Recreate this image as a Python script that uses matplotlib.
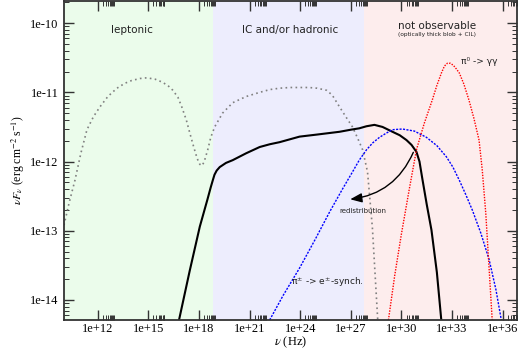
import numpy as np
import matplotlib
matplotlib.use("Agg")
import matplotlib.pyplot as plt
from matplotlib.ticker import FixedLocator, FuncFormatter, LogLocator, NullFormatter

# values, as log10(nu / Hz) and log10(nuF_nu)
lep_ic_lognu = [10.0, 10.3, 10.65, 11.0, 11.36, 11.75, 12.13, 12.6, 13.14, 13.6, 14.0, 14.5,
                14.91, 15.4, 15.8, 16.15, 16.45, 16.75, 16.98, 17.25, 17.46, 17.7, 17.9, 18.05,
                18.17, 18.3, 18.52, 18.7, 18.93, 19.4, 20.0, 20.8, 21.6, 22.2, 22.78, 23.4,
                23.96, 24.5, 25.0, 25.56, 25.9, 26.33, 26.75, 27.1, 27.4, 27.7, 27.99, 28.28, 28.6]
lep_ic_logf = [-12.92, -12.6, -12.27, -11.88, -11.54, -11.35, -11.21, -11.06, -10.94, -10.87,
               -10.83, -10.80, -10.79, -10.81, -10.85, -10.9, -10.97, -11.07, -11.21, -11.40,
               -11.59, -11.8, -11.96, -12.04, -12.06, -12.01, -11.83, -11.65, -11.50, -11.3,
               -11.15, -11.06, -11.0, -10.96, -10.94, -10.93, -10.93, -10.93, -10.94, -10.97,
               -11.04, -11.21, -11.37, -11.50, -11.66, -11.83, -12.15, -12.96, -14.31]

total_lognu = [16.8, 17.45, 18.05, 18.5, 18.7, 18.82, 18.92, 19.05, 19.23, 19.6, 20.0, 20.8,
               21.6, 22.2, 22.78, 23.96, 25.0, 26.33, 27.0, 27.5, 27.93, 28.4, 28.88, 29.47,
               29.9, 30.3, 30.6, 30.89, 31.07, 31.24, 31.5, 31.78, 32.1, 32.37]
total_logf = [-14.31, -13.58, -12.94, -12.55, -12.37, -12.27, -12.19, -12.13, -12.08, -12.02,
              -11.98, -11.88, -11.79, -11.75, -11.72, -11.64, -11.61, -11.57, -11.54, -11.52,
              -11.49, -11.47, -11.50, -11.57, -11.62, -11.69, -11.76, -11.86, -12.0, -12.25,
              -12.62, -12.99, -13.6, -14.31]

synch_lognu = [22.19, 23.0, 23.96, 24.9, 25.74, 26.5, 27.1, 27.5, 27.93, 28.3, 28.7, 29.1,
               29.47, 30.06, 30.77, 31.48, 32.1, 32.66, 33.05, 33.43, 33.8, 34.2, 34.7, 35.2,
               35.6, 35.92]
synch_logf = [-14.29, -13.93, -13.54, -13.12, -12.73, -12.4, -12.15, -11.98, -11.83, -11.73,
              -11.65, -11.59, -11.54, -11.53, -11.56, -11.65, -11.77, -11.93, -12.08, -12.27,
              -12.47, -12.70, -13.03, -13.42, -13.85, -14.29]

pi0_lognu = [29.23, 29.6, 29.99, 30.45, 30.89, 31.35, 31.83, 32.1, 32.37, 32.55, 32.72, 32.9,
             33.08, 33.25, 33.43, 33.7, 34.0, 34.3, 34.6, 34.79, 35.0, 35.2, 35.38]
pi0_logf = [-14.29, -13.65, -13.06, -12.42, -11.83, -11.45, -11.11, -10.9, -10.72, -10.62,
            -10.58, -10.58, -10.61, -10.66, -10.72, -10.88, -11.11, -11.38, -11.69, -12.12,
            -12.75, -13.56, -14.29]

# region boundaries (log10 nu)
regions = [(10.0, 18.82, "#ebfceb"), (18.82, 27.8, "#ededfd"), (27.8, 36.85, "#fdeded")]

x_major = [12, 15, 18, 21, 24, 27, 30, 33, 36]
y_major = [-14, -13, -12, -11, -10]

serif = "Liberation Serif"
plt.rcParams["mathtext.fontset"] = "stix"

fig = plt.figure(figsize=(5.19, 3.51), dpi=100)
ax = fig.add_axes([64 / 519, 31 / 351, 453 / 519, 319 / 351])
ax.set_xscale("log")
ax.set_yscale("log")
ax.set_xlim(1e10, 10 ** 36.85)
ax.set_ylim(10 ** -14.29, 10 ** -9.68)

for lo, hi, c in regions:
    ax.axvspan(10 ** lo, 10 ** hi, color=c, lw=0, zorder=0)

p = lambda a: 10 ** np.array(a)
ax.plot(p(lep_ic_lognu), p(lep_ic_logf), color="#808080", lw=1.2, ls=(0, (1, 2)))
ax.plot(p(total_lognu), p(total_logf), color="black", lw=1.5)
ax.plot(p(synch_lognu), p(synch_logf), color="blue", lw=1.0, ls=(0, (1.5, 1)))
ax.plot(p(pi0_lognu), p(pi0_logf), color="red", lw=1.0, ls=(0, (1, 1)))

ax.annotate("", xy=(10 ** 26.8, 10 ** -12.55), xytext=(10 ** 30.77, 10 ** -11.83),
            arrowprops=dict(arrowstyle="-|>,head_length=0.7,head_width=0.28", color="black",
                            lw=1.0, connectionstyle="arc3,rad=-0.3"))
ax.text(10 ** 27.69, 10 ** -12.71, "redistribution", fontsize=5, ha="center", va="center",
        color="#222222")

ax.text(10 ** 14.02, 10 ** -10.10, "leptonic", fontsize=7.5, ha="center", va="center", color="#222222")
ax.text(10 ** 23.43, 10 ** -10.10, "IC and/or hadronic", fontsize=7.5, ha="center", va="center",
        color="#222222")
ax.text(10 ** 32.13, 10 ** -10.04, "not observable", fontsize=7.5, ha="center", va="center",
        color="#222222")
ax.text(10 ** 32.13, 10 ** -10.17, "(optically thick blob + CIL)", fontsize=4.2, ha="center",
        va="center", color="#222222")
ax.text(10 ** 33.55, 10 ** -10.56, "π⁰ -> γγ", fontsize=6.5, ha="left",
        va="center", color="#222222")
ax.text(10 ** 23.43, 10 ** -13.74, r"π$^{\mathregular{\pm}}$ -> e$^{\mathregular{\pm}}$-synch.",
        fontsize=6.5, ha="left", va="center", color="#222222")

ax.xaxis.set_major_locator(FixedLocator([10.0 ** n for n in x_major]))
ax.xaxis.set_minor_locator(FixedLocator([k * 10.0 ** n for n in x_major for k in range(2, 10)]))
ax.xaxis.set_major_formatter(FuncFormatter(lambda v, pos: "1e+%d" % round(np.log10(v))))
ax.xaxis.set_minor_formatter(NullFormatter())
ax.yaxis.set_major_locator(FixedLocator([10.0 ** n for n in y_major]))
ax.yaxis.set_minor_locator(LogLocator(base=10, subs=np.arange(2, 10), numticks=20))
ax.yaxis.set_major_formatter(FuncFormatter(lambda v, pos: "1e%d" % round(np.log10(v))))
ax.yaxis.set_minor_formatter(NullFormatter())

ax.tick_params(which="both", direction="in", top=True, right=True, color="#333333")
ax.tick_params(which="major", length=7, width=1.0, labelsize=9)
ax.tick_params(axis="x", which="major", pad=2)
ax.tick_params(axis="y", which="major", pad=4)
ax.tick_params(which="minor", length=3.5, width=0.7)
for lab in ax.get_xticklabels() + ax.get_yticklabels():
    lab.set_fontfamily(serif)
for s in ax.spines.values():
    s.set_linewidth(1.3)
    s.set_color("#333333")

ax.set_xlabel(r"$\nu$ (Hz)", fontsize=9, family=serif, labelpad=0)
ax.set_ylabel(r"$\nu F_\nu$ (erg cm$^{-2}$ s$^{-1}$)", fontsize=8.5, family=serif, labelpad=2)

fig.savefig("out.png", dpi=100)
